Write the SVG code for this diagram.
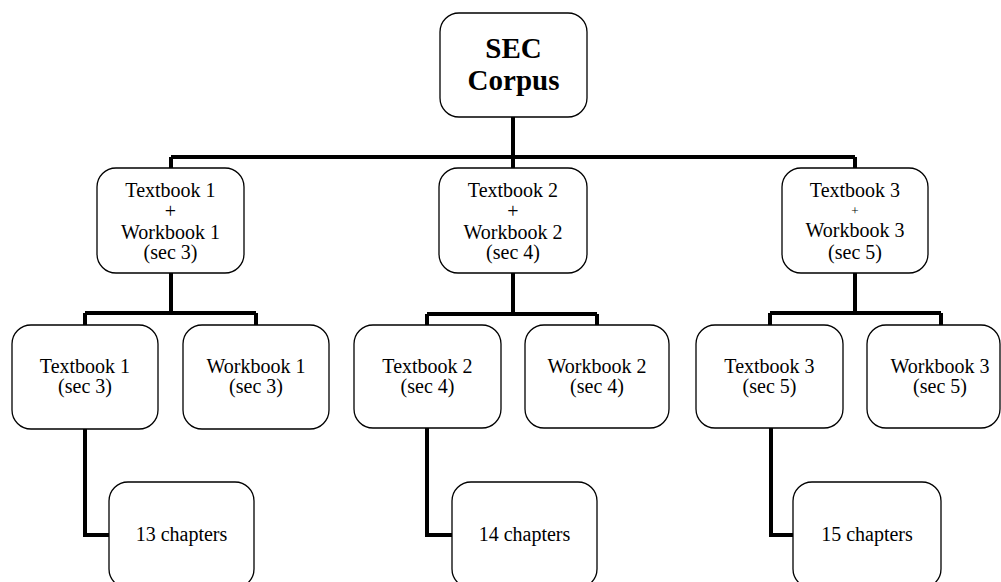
<svg xmlns="http://www.w3.org/2000/svg" width="1001" height="582" viewBox="0 0 1001 582">
<style>
.box{fill:#fff;stroke:#000;stroke-width:1.3}
.t{font-family:"Liberation Serif","Times New Roman",serif;font-size:20px;text-anchor:middle;fill:#000}
.b{font-family:"Liberation Serif","Times New Roman",serif;font-size:29px;font-weight:bold;text-anchor:middle;fill:#000}
.c{fill:none;stroke:#000;stroke-width:4;stroke-linejoin:miter;stroke-linecap:butt}
</style>
<rect width="1001" height="582" fill="#fff"/>
<g id="connectors">
<path class="c" d="M513 117V157M171 157H855M171 157V168M513 157V168M855 157V168"/>
<path class="c" d="M171 273V313M85 313H256M85 313V325M256 313V325"/>
<path class="c" d="M513 273V314M427 314H597M427 314V325M597 314V325"/>
<path class="c" d="M855 273V313M770 313H941M770 313V325M941 313V325"/>
<path class="c" d="M85 429V535H109"/>
<path class="c" d="M427 428V535H452"/>
<path class="c" d="M771 428V535H793"/>
</g>
<g id="root"><rect class="box" x="440" y="13" width="147" height="104" rx="19"/>
<text class="b" x="513.5" y="58">SEC</text><text class="b" x="513.5" y="90">Corpus</text></g>
<g id="tw1"><rect class="box" x="97" y="168" width="147" height="105" rx="19"/>
<text class="t" x="170.5" y="197">Textbook 1</text><text class="t" x="170.5" y="218">+</text><text class="t" x="170.5" y="239">Workbook 1</text><text class="t" x="170.5" y="259">(sec 3)</text></g>
<g id="tw2"><rect class="box" x="439" y="168" width="148" height="105" rx="19"/>
<text class="t" x="513" y="197">Textbook 2</text><text class="t" x="513" y="218">+</text><text class="t" x="513" y="239">Workbook 2</text><text class="t" x="513" y="259">(sec 4)</text></g>
<g id="tw3"><rect class="box" x="782" y="168" width="146" height="105" rx="19"/>
<text class="t" x="855" y="197">Textbook 3</text><text class="t" x="855" y="215" style="font-size:13px">+</text><text class="t" x="855" y="237">Workbook 3</text><text class="t" x="855" y="259">(sec 5)</text></g>
<g id="t1"><rect class="box" x="12" y="325" width="146" height="104" rx="19"/>
<text class="t" x="85" y="373">Textbook 1</text><text class="t" x="85" y="393">(sec 3)</text></g>
<g id="w1"><rect class="box" x="183" y="325" width="146" height="104" rx="19"/>
<text class="t" x="256" y="373">Workbook 1</text><text class="t" x="256" y="393">(sec 3)</text></g>
<g id="t2"><rect class="box" x="354" y="325" width="147" height="103" rx="19"/>
<text class="t" x="427.5" y="373">Textbook 2</text><text class="t" x="427.5" y="393">(sec 4)</text></g>
<g id="w2"><rect class="box" x="525" y="325" width="144" height="103" rx="19"/>
<text class="t" x="597" y="373">Workbook 2</text><text class="t" x="597" y="393">(sec 4)</text></g>
<g id="t3"><rect class="box" x="696" y="325" width="147" height="103" rx="19"/>
<text class="t" x="769.5" y="373">Textbook 3</text><text class="t" x="769.5" y="393">(sec 5)</text></g>
<g id="w3"><rect class="box" x="867" y="325" width="133" height="103" rx="19"/>
<text class="t" x="940" y="373">Workbook 3</text><text class="t" x="940" y="393">(sec 5)</text></g>
<g id="c1"><rect class="box" x="109" y="482" width="145" height="106" rx="19"/>
<text class="t" x="181.5" y="541">13 chapters</text></g>
<g id="c2"><rect class="box" x="452" y="482" width="145" height="106" rx="19"/>
<text class="t" x="524.5" y="541">14 chapters</text></g>
<g id="c3"><rect class="box" x="793" y="482" width="148" height="106" rx="19"/>
<text class="t" x="867" y="541">15 chapters</text></g>
</svg>
